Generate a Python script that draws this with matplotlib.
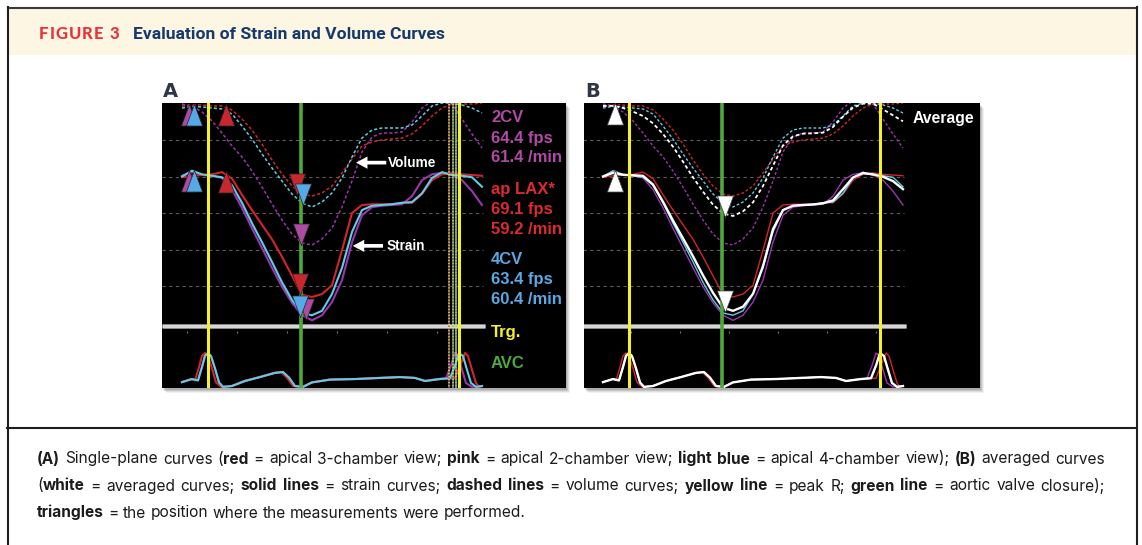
import matplotlib
matplotlib.use("Agg")
import matplotlib.pyplot as plt
from matplotlib import font_manager
from matplotlib.font_manager import FontProperties
from matplotlib.patches import Rectangle
from matplotlib.textpath import TextPath

W, H = 1142, 545

# ---- traced curves (ms from the left edge of the tracing area) ----
t_trace = [80, 120, 160, 200, 240, 280, 320, 360, 400, 440, 480, 520, 560, 600, 640, 680,
           720, 760, 800, 840, 880, 920, 960, 1000, 1040, 1080, 1120, 1160, 1200, 1240, 1280]

# longitudinal strain (%)
strain_2cv = [0.1, 0.6, 0.2, 0.1, -0.2, -1.8, -4.3, -7.1, -9.8, -12.5, -15.1, -17.3, -19.0, -19.7, -19.0, -17.2,
              -14.2, -9.0, -5.3, -4.2, -4.0, -3.9, -3.8, -2.7, -0.5, 0.3, 0.5, 0.2, -0.5, -2.0, -3.9]
strain_lax = [-0.1, 0.1, 0.2, 0.3, 0.6, -0.3, -2.5, -4.6, -6.6, -8.6, -11.0, -13.6, -16.2, -16.5, -16.1, -14.9,
              -10.1, -5.0, -3.9, -3.8, -3.8, -3.8, -3.6, -3.6, -2.4, -0.5, 0.3, 0.5, 0.3, 0.2, 0.1]
strain_4cv = [0.0, 0.8, 0.3, 0.1, -0.1, -1.2, -3.6, -6.4, -9.0, -11.7, -14.5, -16.9, -18.7, -19.0, -18.4, -16.1,
              -12.5, -7.6, -4.6, -4.0, -3.9, -3.8, -3.6, -3.5, -2.3, -0.2, 0.6, 0.2, 0.1, -0.1, -1.4]

# LV volume (mL)
vol_2cv = [129.5, 128.5, 125.5, 121.0, 115.0, 108.5, 103.0, 96.0, 88.0, 79.5, 71.5, 64.5, 60.0, 59.0, 62.0, 67.5,
           78.0, 91.0, 105.5, 113.0, 115.0, 115.0, 115.5, 120.5, 127.5, 131.0, 131.5, 129.5, 122.0, 114.5, 107.5]
vol_lax = [128.5, 129.0, 129.0, 128.5, 128.5, 126.5, 122.0, 116.5, 109.5, 101.5, 94.5, 88.5, 84.5, 83.5, 85.0, 88.5,
           95.0, 102.0, 108.5, 110.5, 111.5, 112.0, 112.5, 114.5, 118.5, 123.5, 127.5, 129.5, 129.5, 129.5, 130.0]
vol_4cv = [127.5, 128.3, 128.0, 127.5, 127.0, 124.5, 118.5, 112.0, 104.5, 97.5, 91.0, 84.5, 80.0, 78.0, 80.5, 85.0,
           92.5, 103.0, 112.5, 116.5, 117.5, 117.5, 117.5, 119.0, 123.5, 128.5, 130.0, 130.0, 129.0, 127.5, 125.0]

# ECG (mV) and the sample times of each view
ecg_mv = [-0.04, 0.07, 0.02, 0.5, 0.9, 1.0, 0.89, 0.45, -0.05, -0.21, -0.18, 0.0, 0.14, 0.29, 0.32, 0.12, -0.18,
          -0.21, -0.05, 0.05, 0.07, 0.11, 0.14, 0.11, 0.0, 0.07, 0.1, 0.55, 1.0, 0.89, 0.4, -0.07, -0.21, -0.18]
ecg_t_4cv = [80, 120, 144, 160, 172, 184, 196, 212, 228, 244, 280, 332, 392, 452, 484, 508, 532, 564, 600, 672,
             772, 872, 952, 1012, 1052, 1112, 1152, 1172, 1188, 1204, 1220, 1236, 1256, 1280]
ecg_t_lax = [80, 116, 132, 148, 160, 172, 184, 200, 216, 236, 276, 328, 388, 448, 476, 500, 524, 560, 600, 672,
             772, 872, 952, 1012, 1052, 1112, 1172, 1192, 1212, 1224, 1240, 1256, 1268, 1280]
ecg_t_2cv = [80, 120, 144, 160, 172, 184, 196, 212, 228, 244, 280, 332, 392, 452, 484, 508, 532, 564, 600, 672,
             772, 872, 952, 1012, 1052, 1100, 1136, 1156, 1172, 1186, 1200, 1216, 1240, 1280]

# events (ms)
trigger_t = [184, 1186]
avc_t = 556
extra_trigger_t = [1148, 1162, 1174]

# measurement triangles: (time, value)
start_vol = {"2cv": (108, 129.5), "4cv": (128, 129.5), "lax": (256, 129.5)}
start_strain = {"2cv": (108, 0.9), "4cv": (128, 0.9), "lax": (256, 0.75)}
end_vol = {"lax": (540, 84), "2cv": (556, 59), "4cv": (564, 79)}
end_strain = {"lax": (552, -16.2), "4cv": (552, -19.3), "2cv": (576, -19.6)}
avg_start = (128, 130, 0.9)
avg_end = (568, 73, -18.6)

grid_levels = [5, 0, -5, -10, -15]
ticks_a = [100, 300, 500, 700, 900, 1100]
ticks_b = [190, 388, 584, 780, 976, 1172]

view_names = ["2CV", "ap LAX*", "4CV"]
view_fps = ["64.4 fps", "69.1 fps", "63.4 fps"]
view_hr = ["61.4 /min", "59.2 /min", "60.4 /min"]

caption = [
    [("(A)", True), (" Single-plane curves (", False), ("red", True), (" = apical 3-chamber view; ", False),
     ("pink", True), (" = apical 2-chamber view; ", False), ("light blue", True),
     (" = apical 4-chamber view); ", False), ("(B)", True), (" averaged curves", False)],
    [("(", False), ("white", True), (" = averaged curves; ", False), ("solid lines", True),
     (" = strain curves; ", False), ("dashed lines", True), (" = volume curves; ", False),
     ("yellow line", True), (" = peak R; ", False), ("green line", True), (" = aortic valve closure);", False)],
    [("triangles", True), (" = the position where the measurements were performed.", False)],
]

# ---- colours ----
line_col = {"2cv": "#9b35b0", "lax": "#d4242a", "4cv": "#5fcde6"}
tri_col = {"2cv": "#ad4aa2", "lax": "#c8282d", "4cv": "#55a9e6"}
label_col = ["#b04aa6", "#dc2a2e", "#5aa8e4"]
YELLOW = "#f4f02a"
GREEN = "#4fa83c"

installed = {f.name for f in font_manager.fontManager.ttflist}
candidates = [n for n in ["Lato", "Roboto", "Open Sans", "Noto Sans", "Liberation Sans", "Inter",
                          "Roboto Condensed", "Open Sans Condensed", "Liberation Sans Narrow"] if n in installed]

fig = plt.figure(figsize=(W / 100, H / 100), dpi=100, facecolor="white")
bg = fig.add_axes([0, 0, 1, 1])
bg.set_xlim(0, W)
bg.set_ylim(H, 0)
bg.axis("off")
renderer = fig.canvas.get_renderer()


def text_w(s, **kw):
    t = bg.text(0, 0, s, **kw)
    w = t.get_window_extent(renderer).width
    t.remove()
    return w


def ink_px(ch, family, weight, size):
    tp = TextPath((0, 0), ch, size=10, prop=FontProperties(family=family, weight=weight))
    return tp.get_extents().height / 10 * size * 100 / 72


def split_words(segments):
    words = [[]]
    for text, bold in segments:
        parts = text.split(" ")
        for i, p in enumerate(parts):
            if i > 0:
                words.append([])
            if p:
                words[-1].append((p, bold))
    return [w for w in words if w]


def word_width(word, size, family):
    return sum(text_w(p, fontsize=size, family=family, fontweight="bold" if b else "normal") for p, b in word)


# pick the face that, set to the caption's measure, gives the caption's letter height
w1 = split_words(caption[0])
best = None
for fam in candidates:
    sp = text_w("x x", fontsize=10, family=fam) - text_w("xx", fontsize=10, family=fam)
    nat = sum(word_width(w, 10, fam) for w in w1) + sp * (len(w1) - 1)
    size = 10 * 1056 / nat
    err = abs(ink_px("d", fam, "normal", size) - 11.7)
    if best is None or err < best[0]:
        best = (err, fam, size, sp * size / 10)
_, CAP_FONT, csize, cspace = best

title = "Evaluation of Strain and Volume Curves"
best = None
for fam in candidates:
    size = 10 * 312 / text_w(title, fontsize=10, family=fam, fontweight="bold")
    err = abs(ink_px("E", fam, "bold", size) - 12.5)
    if best is None or err < best[0]:
        best = (err, fam, size)
_, TITLE_FONT, tsize = best

# frame, header band, shadows
bg.add_patch(Rectangle((8.5, 8.5), 1127, 46, color="#fdf6e3", lw=0))
bg.plot([7.5, 1136.5], [7.5, 7.5], color="#3a3a3a", lw=1.5)
bg.plot([7.5, 7.5], [7, 545], color="#1e1e1e", lw=1.5)
bg.plot([1136.5, 1136.5], [7, 545], color="#1e1e1e", lw=1.5)
bg.plot([7, 1137], [427.5, 427.5], color="#1e1e1e", lw=1.5)
for x0, x1 in [(162, 566), (584, 980)]:
    for off, a in [(5, 0.06), (4, 0.08), (3, 0.1), (2, 0.12)]:
        bg.add_patch(Rectangle((x0 + off - 1, 103 + off), x1 - x0, 285, color="black", alpha=a, lw=0))

# header title
fig_kw = dict(family="Lato", fontweight="black", color="#e8333b", fontsize=12, va="baseline")
letters = "FIGURE3"
lw_ = [text_w(c, **fig_kw) for c in letters]
space = 0.28 * 12 * 100 / 72
track = max(0.5, (80 - sum(lw_) - space) / 6)
x = 39
for i, c in enumerate(letters):
    bg.text(x, 39, c, **fig_kw)
    x += lw_[i] + track + (space if c == "E" else 0)

bg.text(133, 39, title, fontsize=tsize, family=TITLE_FONT, fontweight="bold", color="#163a6e", va="baseline")

for x, s in [(163, "A"), (585, "B")]:
    bg.text(x, 97, s, family="DejaVu Sans", fontweight="bold", fontsize=14, color="#2e3547", va="baseline")

# caption, justified like the journal layout
x_left, x_right = 37, 1105
for li, (segs, base) in enumerate(zip(caption, [463.5, 490.5, 517.5])):
    words = split_words(segs)
    widths = [word_width(w, csize, CAP_FONT) for w in words]
    if li < len(caption) - 1:
        gap = (x_right - x_left - sum(widths)) / (len(words) - 1)
    else:
        gap = cspace
    x = x_left
    for word, ww in zip(words, widths):
        xx = x
        for p, b in word:
            t = bg.text(xx, base, p, fontsize=csize, family=CAP_FONT, fontweight="bold" if b else "normal",
                        color="#1b1b1b", va="baseline")
            xx += t.get_window_extent(renderer).width
        x += ww + gap


# ---- echo panels ----
def make_panel(x0, x1, t0, t1):
    ax = fig.add_axes([x0 / W, 1 - 388 / H, (x1 - x0) / W, 285 / H])
    ax.set_facecolor("black")
    ax.set_xlim(t0, t1)
    ax.set_ylim(-28.97, 10.07)
    ax.set_xticks([])
    ax.set_yticks([])
    for s in ax.spines.values():
        s.set_visible(False)
    axv = ax.twinx()
    axv.set_ylim(-12.5, 130)
    axv.axis("off")
    axe = ax.twinx()
    axe.set_ylim(-0.25, 9.93)
    axe.axis("off")
    return ax, axv.transData, axe.transData


up_tri = [(0, 0), (-0.75, -2), (0.75, -2), (0, 0)]
down_tri = [(0, 0), (-0.75, 2), (0.75, 2), (0, 0)]
TRI = 31

strain = {"2cv": strain_2cv, "lax": strain_lax, "4cv": strain_4cv}
vol = {"2cv": vol_2cv, "lax": vol_lax, "4cv": vol_4cv}
ecg_t = {"2cv": ecg_t_2cv, "lax": ecg_t_lax, "4cv": ecg_t_4cv}
order = ["2cv", "lax", "4cv"]


def common(ax, vt, et, ticks, lw_s, lw_v):
    ax.hlines(grid_levels, 0, 1284, colors="#5c5c5c", lw=0.8, linestyles=(0, (3, 3)), zorder=1)
    ax.hlines(-20.5, 0, 1292, colors="#8a8a8a", lw=3.4, zorder=1.5)
    ax.hlines(-20.5, 0, 1292, colors="#d6d6d6", lw=2.4, zorder=1.6)
    ax.vlines(ticks, -21.5, -21.1, colors="#777777", lw=0.8, zorder=1.5)
    for k in order:
        ax.plot(t_trace, vol[k], transform=vt, color=line_col[k], lw=lw_v, dashes=(2, 1.5), zorder=2)
    for k in order:
        ax.plot(t_trace, strain[k], color=line_col[k], lw=lw_s, zorder=2.5)
        ax.plot(ecg_t[k], ecg_mv, transform=et, color=line_col[k], lw=lw_s, zorder=2.5)


def tri(ax, t, v, marker, col, edge, transform=None):
    kw = dict(marker=marker, ms=TRI, color=col, mec=edge, mew=0.5, zorder=5, clip_on=False)
    if transform is not None:
        kw["transform"] = transform
    ax.plot([t], [v], **kw)


# panel A
axA, vtA, etA = make_panel(162, 566, 0, 1616)
common(axA, vtA, etA, ticks_a, 1.5, 1.1)
for t, c in zip(extra_trigger_t, [line_col["2cv"], "#4f9fe0", line_col["4cv"]]):
    axA.axvline(t, color=c, lw=1.1, linestyle=(0, (1, 1)), zorder=3.8)
    axA.axvline(t, color=YELLOW, lw=1.1, linestyle=(1, (1, 1)), zorder=3.9)
for t in trigger_t:
    axA.axvline(t, color=YELLOW, lw=2.2, zorder=4)
axA.axvline(avc_t, color=GREEN, lw=2.6, zorder=4)
for k in order:
    tri(axA, *start_vol[k], up_tri, tri_col[k], "#222222", vtA)
    tri(axA, *start_strain[k], up_tri, tri_col[k], "#222222")
    tri(axA, *end_vol[k], down_tri, tri_col[k], "#222222", vtA)
    tri(axA, *end_strain[k], down_tri, tri_col[k], "#222222")

arrow = dict(arrowstyle="simple,head_length=0.75,head_width=0.8,tail_width=0.24",
             color="white", lw=0, mutation_scale=11, shrinkA=0, shrinkB=0)
axA.annotate("", xy=(776, 1.9), xytext=(897, 1.9), arrowprops=arrow, zorder=6)
axA.text(904, 1.9, "Volume", color="white", fontsize=9.8, fontweight="bold",
         family="Liberation Sans", va="center", ha="left", zorder=6)
axA.annotate("", xy=(763, -9.5), xytext=(884, -9.5), arrowprops=arrow, zorder=6)
axA.text(900, -9.5, "Strain", color="white", fontsize=9.8, fontweight="bold",
         family="Liberation Sans", va="center", ha="left", zorder=6)

lab_kw = dict(family="Liberation Sans", fontweight="bold", fontsize=12, va="baseline", ha="left")
for i, base in enumerate([122.5, 194, 264]):
    for j, s in enumerate([view_names[i], view_fps[i], view_hr[i]]):
        fig.text(491 / W, 1 - (base + 20 * j) / H, s, color=label_col[i], **lab_kw)
fig.text(491 / W, 1 - 337 / H, "Trg.", color=YELLOW, **lab_kw)
fig.text(491 / W, 1 - 368 / H, "AVC", color=GREEN, **lab_kw)

# panel B
axB, vtB, etB = make_panel(584, 980, 4, 1588)
common(axB, vtB, etB, ticks_b, 1.0, 1.0)
avg_strain = [(a + b + c) / 3 for a, b, c in zip(strain_2cv, strain_lax, strain_4cv)]
avg_vol = [(a + b + c) / 3 for a, b, c in zip(vol_2cv, vol_lax, vol_4cv)]
axB.plot(t_trace, avg_vol, transform=vtB, color="white", lw=1.3, dashes=(2, 1.5), zorder=3)
axB.plot(t_trace, avg_strain, color="white", lw=1.7, zorder=3)
axB.plot(ecg_t_4cv, ecg_mv, transform=etB, color="white", lw=1.7, zorder=3)
for t in trigger_t:
    axB.axvline(t, color=YELLOW, lw=2.2, zorder=4)
axB.axvline(avc_t, color=GREEN, lw=2.6, zorder=4)
for (t, v, s), m in [(avg_start, up_tri), (avg_end, down_tri)]:
    tri(axB, t, v, m, "white", "#444444", vtB)
    tri(axB, t, s, m, "white", "#444444")
fig.text(913 / W, 1 - 122.5 / H, "Average", color="white", family="Liberation Sans",
         fontweight="bold", fontsize=11.3, va="baseline", ha="left")

fig.savefig("out.png", dpi=100, facecolor="white")
